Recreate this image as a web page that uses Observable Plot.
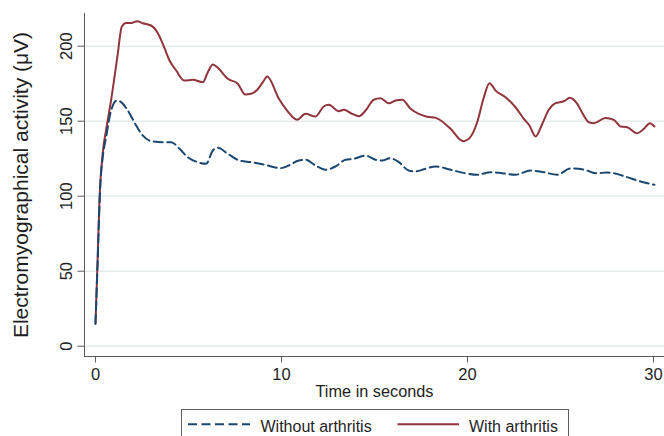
<!DOCTYPE html>
<html><head><meta charset="utf-8">
<script src="https://cdn.jsdelivr.net/npm/d3@7"></script>
<script src="https://cdn.jsdelivr.net/npm/@observablehq/plot@0.6"></script>
<style>
body{margin:0;background:#fff;font-family:"Liberation Sans",Arial,sans-serif;}
#wrap{position:relative;width:664px;height:436px;overflow:hidden;background:#fff;}
#chart svg{display:block;}
#legend{position:absolute;left:181px;top:409px;width:388px;height:40px;border:1px solid #5f5f5f;box-sizing:border-box;}
#legend svg{display:block;}
</style></head><body>
<div id="wrap"><div id="chart"></div><div id="legend"></div></div>
<script>
// ---- data ----
const seriesNames = ["Without arthritis", "With arthritis"];
const seriesColors = ["#1a476f", "#90353b"];

const timeWithout = [0,0.1,0.25,0.4,0.57,0.84,1.15,1.38,1.74,2.19,2.54,2.99,3.62,4.07,4.52,4.96,5.5,5.95,6.31,6.58,7.11,7.74,8.37,9.1,9.95,10.39,10.93,11.29,11.83,12.37,12.9,13.44,13.89,14.52,15.05,15.41,15.86,16.31,16.84,17.2,17.74,18.3,19.09,19.89,20.52,21.24,21.86,22.58,23.39,24.1,24.82,25.54,26.3,26.88,27.5,27.87,28.58,29.3,30.05];
const emgWithout = [15,50,105,127,139.3,157.1,163.8,162.7,157.1,147.1,140.5,136.7,136,136,131.6,126,122.7,121.6,130.5,132.3,128.3,123.8,122.7,121,118.7,120.5,123.8,124.3,120.5,117.6,119.8,124.3,124.9,127.1,124.3,123.8,125.3,122.7,117.1,116.5,118.3,119.8,117.6,115.3,114.3,116,115.3,114.3,117.1,116,114.3,118.5,117.6,115.3,115.8,115.3,112.7,109.8,107.6];

const timeWith = [0,0.1,0.22,0.4,0.57,0.84,1.2,1.41,1.65,1.92,2.24,2.54,2.99,3.26,3.62,3.98,4.34,4.78,5.23,5.77,6.04,6.31,6.58,7.11,7.65,8.05,8.37,8.7,9.0,9.23,9.86,10.3,10.84,11.29,11.83,12.27,12.54,13.08,13.35,13.8,14.16,14.52,14.96,15.32,15.77,16.13,16.49,16.94,17.38,17.83,18.3,19.09,19.75,20.07,20.52,20.88,21.18,21.51,22.04,22.58,23.03,23.33,23.66,24.02,24.37,24.73,25.18,25.5,25.9,26.2,26.52,26.8,27.42,27.87,28.23,28.58,29.12,29.48,29.8,30.05];
const emgWith = [15,52,99,130,144,164,195,213,215.5,215.5,216.7,215.3,213.8,210.5,201.6,190.5,183.8,177.1,177.6,176,182.7,187.8,185.6,178.3,175,167.8,168.3,171,176,179.8,164.9,157.1,150.9,154.9,153.1,159.8,160.9,156.7,157.6,154.9,153.3,157.1,164.3,165.3,162,163.8,164.3,158.3,154.9,153,152.2,144.9,136.7,138.3,149.3,166,175.3,170.4,166,159.3,151.6,147.1,139.8,148.3,157.6,162,163.3,165.6,161.6,154.9,149.3,148.7,152.2,150.9,146.5,146,142,144.9,148.7,146.5];

const xTicks = [0, 10, 20, 30];
const yTicks = [0, 50, 100, 150, 200];
const xDomain = [-0.59, 30.59];
const yDomain = [-6.87, 221.8];
const xTitle = "Time in seconds";
const yTitle = "Electromyographical activity (\u03bcV)";

const rows = [
  ...timeWithout.map((t, i) => ({t, v: emgWithout[i], s: seriesNames[0]})),
  ...timeWith.map((t, i) => ({t, v: emgWith[i], s: seriesNames[1]}))
];

const font = '"Liberation Sans", Arial, sans-serif';
const axisColor = "#5a5a5a";

const chart = Plot.plot({
  width: 664, height: 405,
  marginLeft: 84, marginRight: 0, marginTop: 13, marginBottom: 49,
  x: {domain: xDomain},
  y: {domain: yDomain},
  style: {fontFamily: font, background: "#fff", color: "#1e1e1e"},
  marks: [
    Plot.ruleY(yTicks, {stroke: "#e6ecee", strokeWidth: 1.6}),
    Plot.ruleX([xDomain[0]], {stroke: axisColor, strokeWidth: 1}),
    Plot.ruleY([yDomain[0]], {stroke: axisColor, strokeWidth: 1}),
    Plot.axisX(xTicks, {tickSize: 6.5, tickPadding: 5, fontSize: 16.5, label: null, stroke: axisColor, fill: "#1e1e1e"}),
    Plot.axisY(yTicks, {tickSize: 6.5, tickFormat: () => "", label: null, stroke: axisColor}),
    Plot.text(yTicks, {y: d => d, frameAnchor: "left", text: d => String(d), rotate: -90,
      textAnchor: "middle", lineAnchor: "bottom", dx: -12.5, fontSize: 16.5, fill: "#1e1e1e"}),
    Plot.text([yTitle], {frameAnchor: "left", text: d => d, rotate: -90, textAnchor: "middle",
      lineAnchor: "bottom", dx: -56.5, fontSize: 21, fill: "#1e1e1e"}),
    Plot.text([xTitle], {frameAnchor: "bottom", text: d => d, lineAnchor: "top", dy: 29, fontSize: 16.3, fill: "#1e1e1e"}),
    Plot.line(rows, {filter: d => d.s === seriesNames[1], x: "t", y: "v", stroke: seriesColors[1],
      strokeWidth: 2, curve: "monotone-x"}),
    Plot.line(rows, {filter: d => d.s === seriesNames[0], x: "t", y: "v", stroke: seriesColors[0],
      strokeWidth: 2, strokeDasharray: "9,4.5", curve: "monotone-x"})
  ]
});
document.getElementById("chart").appendChild(chart);

// ---- legend ----
const legendItems = [
  {name: seriesNames[0], color: seriesColors[0], dash: "9,4.5", x0: 6, x1: 68, tx: 78.5},
  {name: seriesNames[1], color: seriesColors[1], dash: null, x0: 215.5, x1: 277, tx: 287}
];
const lg = d3.select("#legend").append("svg").attr("width", 386).attr("height", 38);
for (const it of legendItems) {
  const ln = lg.append("line").attr("x1", it.x0).attr("x2", it.x1).attr("y1", 14.3).attr("y2", 14.3)
    .attr("stroke", it.color).attr("stroke-width", 2);
  if (it.dash) ln.attr("stroke-dasharray", it.dash);
  lg.append("text").attr("x", it.tx).attr("y", 21.7).attr("font-size", 16).attr("font-family", font)
    .attr("fill", "#1e1e1e").text(it.name);
}
</script>
</body></html>
